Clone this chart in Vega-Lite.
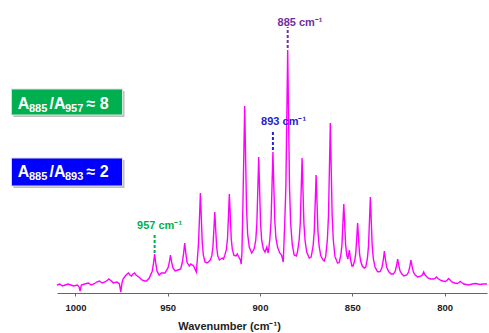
{
  "$schema": "https://vega.github.io/schema/vega-lite/v6.json",
  "width": 430,
  "height": 283,
  "autosize": "none",
  "padding": {"left": 57, "top": 10, "right": 2, "bottom": 40},
  "background": "white",
  "config": {"view": {"stroke": null}, "font": "Liberation Sans"},
  "datasets": {
    "spectrum": [
      {"wn":1010,"intensity":8},{"wn":1008.5,"intensity":9},{"wn":1007,"intensity":7},{"wn":1005.5,"intensity":8},{"wn":1004,"intensity":9},{"wn":1002.5,"intensity":8},{"wn":1001,"intensity":7},{"wn":999,"intensity":8},{"wn":998,"intensity":6},{"wn":997.5,"intensity":2},{"wn":996.8,"intensity":8},{"wn":995,"intensity":9},{"wn":993,"intensity":10},{"wn":991.5,"intensity":8},{"wn":990,"intensity":9},{"wn":988.5,"intensity":11},{"wn":987,"intensity":12},{"wn":985.5,"intensity":10},{"wn":984,"intensity":11},{"wn":982.5,"intensity":13},{"wn":982,"intensity":14},{"wn":980.5,"intensity":12},{"wn":979.5,"intensity":10},{"wn":977.5,"intensity":11},{"wn":976.2,"intensity":9},{"wn":975.4,"intensity":1},{"wn":974.8,"intensity":10},{"wn":974.2,"intensity":14},{"wn":973,"intensity":17},{"wn":972,"intensity":19},{"wn":971.3,"intensity":20},{"wn":970.5,"intensity":18},{"wn":969.6,"intensity":17},{"wn":968.8,"intensity":19},{"wn":968,"intensity":20},{"wn":967.2,"intensity":18},{"wn":966.4,"intensity":17},{"wn":965,"intensity":15},{"wn":964,"intensity":13},{"wn":962.5,"intensity":12},{"wn":961.5,"intensity":12},{"wn":960,"intensity":15},
      {"wn":958.4,"intensity":21.8},{"wn":957.7,"intensity":29.8},{"wn":957.1,"intensity":39},{"wn":956.5,"intensity":29.8},{"wn":955.8,"intensity":21.8},{"wn":954.6,"intensity":18},{"wn":953.5,"intensity":20},{"wn":951.5,"intensity":20},
      {"wn":949.8,"intensity":25.3},{"wn":949.1,"intensity":31.2},{"wn":948.5,"intensity":38},{"wn":947.9,"intensity":31.2},{"wn":947.2,"intensity":25.3},{"wn":946,"intensity":22},{"wn":944.5,"intensity":23},{"wn":943,"intensity":24},
      {"wn":942.1,"intensity":30.5},{"wn":941.4,"intensity":39.6},{"wn":940.8,"intensity":50},{"wn":940.2,"intensity":39.6},{"wn":939.5,"intensity":30.5},{"wn":938.3,"intensity":27},{"wn":937.5,"intensity":29},{"wn":936,"intensity":27},{"wn":934.5,"intensity":21},
      {"wn":933.9,"intensity":35},{"wn":933.3,"intensity":50.4},{"wn":932.8,"intensity":74.8},{"wn":932.3,"intensity":100},{"wn":931.8,"intensity":74.8},{"wn":931.3,"intensity":50.4},{"wn":930.7,"intensity":37.8},{"wn":929.8,"intensity":31},{"wn":928.7,"intensity":30},
      {"wn":927,"intensity":32.6},{"wn":926.1,"intensity":37.3},{"wn":925.5,"intensity":46.2},{"wn":925,"intensity":63.3},{"wn":924.5,"intensity":81},{"wn":924,"intensity":63.3},{"wn":923.5,"intensity":46.2},{"wn":922.9,"intensity":37.3},{"wn":922,"intensity":33},{"wn":920.5,"intensity":35},{"wn":919.8,"intensity":34},
      {"wn":919.1,"intensity":37.6},{"wn":918.2,"intensity":43.6},{"wn":917.6,"intensity":54.8},{"wn":917.1,"intensity":76.6},{"wn":916.6,"intensity":99},{"wn":916.1,"intensity":76.6},{"wn":915.6,"intensity":54.8},{"wn":915,"intensity":43.6},{"wn":914.1,"intensity":37.6},{"wn":913,"intensity":37},{"wn":912.3,"intensity":39},{"wn":911.5,"intensity":36},{"wn":910.6,"intensity":33},{"wn":910.2,"intensity":29},
      {"wn":909.8,"intensity":40},{"wn":909.3,"intensity":85},{"wn":908.8,"intensity":135},{"wn":908.3,"intensity":187},{"wn":907.8,"intensity":135},{"wn":907.3,"intensity":85},{"wn":906.7,"intensity":59},{"wn":905.8,"intensity":45.6},{"wn":904.5,"intensity":40},
      {"wn":903.2,"intensity":43.9},{"wn":902.3,"intensity":52.8},{"wn":901.7,"intensity":69.7},{"wn":901.2,"intensity":102.3},{"wn":900.7,"intensity":136},{"wn":900.2,"intensity":102.3},{"wn":899.7,"intensity":69.7},{"wn":899.1,"intensity":52.8},{"wn":898.2,"intensity":44},{"wn":897.3,"intensity":41},{"wn":896.3,"intensity":46},{"wn":895.6,"intensity":40},{"wn":895.2,"intensity":45},
      {"wn":894.6,"intensity":55.3},{"wn":894,"intensity":72.7},{"wn":893.5,"intensity":106.3},{"wn":893,"intensity":141},{"wn":892.5,"intensity":106.3},{"wn":892,"intensity":72.7},{"wn":891.4,"intensity":55.3},{"wn":890.5,"intensity":46},{"wn":889.3,"intensity":40},{"wn":888.3,"intensity":38},{"wn":887.4,"intensity":31},
      {"wn":886.6,"intensity":70},{"wn":886,"intensity":105},{"wn":885.5,"intensity":173},{"wn":885,"intensity":243},{"wn":884.5,"intensity":173},{"wn":884,"intensity":105},{"wn":883.4,"intensity":70},{"wn":882.5,"intensity":48},{"wn":881.5,"intensity":38},{"wn":880.3,"intensity":37},
      {"wn":879.7,"intensity":41},{"wn":878.8,"intensity":52.7},{"wn":878.2,"intensity":69.3},{"wn":877.7,"intensity":101.7},{"wn":877.2,"intensity":135},{"wn":876.7,"intensity":101.7},{"wn":876.2,"intensity":69.3},{"wn":875.6,"intensity":52.7},{"wn":874.7,"intensity":41},{"wn":873.3,"intensity":35},{"wn":872.3,"intensity":36},
      {"wn":871.2,"intensity":47.4},{"wn":870.6,"intensity":61.7},{"wn":870.1,"intensity":89.4},{"wn":869.6,"intensity":118},{"wn":869.1,"intensity":89.4},{"wn":868.6,"intensity":61.7},{"wn":868,"intensity":47.4},{"wn":867.1,"intensity":37.4},{"wn":865.8,"intensity":33},{"wn":865.2,"intensity":32},
      {"wn":864.4,"intensity":36.6},{"wn":863.5,"intensity":53.2},{"wn":862.9,"intensity":76.9},{"wn":862.4,"intensity":122.7},{"wn":861.9,"intensity":170},{"wn":861.4,"intensity":122.7},{"wn":860.9,"intensity":76.9},{"wn":860.3,"intensity":53.2},{"wn":859.4,"intensity":36.6},{"wn":858,"intensity":30},
      {"wn":857.1,"intensity":30.4},{"wn":856.2,"intensity":37.8},{"wn":855.6,"intensity":48.1},{"wn":855.1,"intensity":68.3},{"wn":854.6,"intensity":89},{"wn":854.1,"intensity":68.3},{"wn":853.6,"intensity":48.1},{"wn":853,"intensity":37.8},{"wn":852.4,"intensity":34},{"wn":851.6,"intensity":43},{"wn":850.9,"intensity":33},{"wn":850.2,"intensity":27},{"wn":849.6,"intensity":27},
      {"wn":848.7,"intensity":32.2},{"wn":848.1,"intensity":39.9},{"wn":847.6,"intensity":54.7},{"wn":847.1,"intensity":70},{"wn":846.6,"intensity":54.7},{"wn":846.1,"intensity":39.9},{"wn":845.5,"intensity":32.2},{"wn":844.6,"intensity":27},{"wn":843.5,"intensity":25},
      {"wn":842.7,"intensity":25.9},{"wn":841.8,"intensity":34.7},{"wn":841.2,"intensity":47.1},{"wn":840.7,"intensity":71.2},{"wn":840.2,"intensity":96},{"wn":839.7,"intensity":71.2},{"wn":839.2,"intensity":47.1},{"wn":838.6,"intensity":34.7},{"wn":837.7,"intensity":26},{"wn":836.5,"intensity":22},{"wn":835.8,"intensity":21},
      {"wn":834.9,"intensity":21.5},{"wn":833.9,"intensity":25.5},{"wn":833.2,"intensity":33.2},{"wn":832.6,"intensity":42},{"wn":832,"intensity":33.2},{"wn":831.3,"intensity":25.5},{"wn":830.3,"intensity":21.5},{"wn":829,"intensity":19},
      {"wn":827.7,"intensity":19},{"wn":826.7,"intensity":22},{"wn":826,"intensity":27.6},{"wn":825.4,"intensity":34},{"wn":824.8,"intensity":27.6},{"wn":824.1,"intensity":22},{"wn":823.1,"intensity":19},{"wn":822,"intensity":17},
      {"wn":820.5,"intensity":18},{"wn":819.5,"intensity":21},{"wn":818.8,"intensity":26.6},{"wn":818.2,"intensity":33},{"wn":817.6,"intensity":26.6},{"wn":816.9,"intensity":21},{"wn":815.9,"intensity":18},{"wn":814.5,"intensity":16},
      {"wn":812.6,"intensity":17},{"wn":811.9,"intensity":18.5},{"wn":811.3,"intensity":21},{"wn":810.7,"intensity":18.5},{"wn":810,"intensity":17},{"wn":809,"intensity":15},{"wn":807.5,"intensity":14},{"wn":806,"intensity":14},
      {"wn":805.2,"intensity":14.5},{"wn":804.4,"intensity":16},{"wn":803.6,"intensity":14.5},{"wn":802.5,"intensity":13},{"wn":801,"intensity":12},{"wn":799.5,"intensity":11.5},
      {"wn":798.5,"intensity":13},{"wn":797.8,"intensity":14.5},{"wn":797,"intensity":13},{"wn":796,"intensity":11},{"wn":794.5,"intensity":10},{"wn":793,"intensity":9.5},
      {"wn":792.2,"intensity":10.5},{"wn":791.5,"intensity":11.5},{"wn":790.8,"intensity":10.5},{"wn":789.5,"intensity":9},{"wn":787,"intensity":8},{"wn":785,"intensity":9},{"wn":783,"intensity":9.5},{"wn":781,"intensity":8.5},{"wn":779,"intensity":9},{"wn":777,"intensity":9}
    ],
    "markers": [
      {"peak":"885","wn":885,"intensity":245,"intensity2":266,"labelWn":890.5,"labelY":270.5,"label":"885 cm⁻¹"},
      {"peak":"893","wn":893,"intensity":143,"intensity2":161,"labelWn":899.4,"labelY":171,"label":"893 cm⁻¹"},
      {"peak":"957","wn":957.1,"intensity":40,"intensity2":60,"labelWn":966.6,"labelY":67,"label":"957 cm⁻¹"}
    ],
    "boxes": [
      {"peak":"ratio957","wn":1034.7,"wn2":974.5,"intensity":178,"intensity2":204},
      {"peak":"ratio893","wn":1034.7,"wn2":974.5,"intensity":107,"intensity2":135}
    ],
    "boxText": [
      {"box":"ratio957","role":"big","text":"A","wn":1031.3,"intensity":183.7},
      {"box":"ratio957","role":"sub","text":"885","wn":1025.2,"intensity":183.7},
      {"box":"ratio957","role":"big","text":"/A","wn":1014.1,"intensity":183.7},
      {"box":"ratio957","role":"sub","text":"957","wn":1005.7,"intensity":183.7},
      {"box":"ratio957","role":"big","text":"≈ 8","wn":994.0,"intensity":183.7},
      {"box":"ratio893","role":"big","text":"A","wn":1031.3,"intensity":116.3},
      {"box":"ratio893","role":"sub","text":"885","wn":1025.2,"intensity":116.3},
      {"box":"ratio893","role":"big","text":"/A","wn":1014.1,"intensity":116.3},
      {"box":"ratio893","role":"sub","text":"893","wn":1005.7,"intensity":116.3},
      {"box":"ratio893","role":"big","text":"≈ 2","wn":994.0,"intensity":116.3}
    ]
  },
  "encoding": {
    "x": {
      "field": "wn", "type": "quantitative",
      "scale": {"domain": [777, 1010], "reverse": true, "nice": false, "zero": false},
      "axis": {
        "values": [1000, 950, 900, 850, 800], "format": "d",
        "grid": false, "domainColor": "#666666", "domainWidth": 1,
        "tickColor": "#666666", "tickSize": 3,
        "labelFont": "Liberation Sans", "labelFontSize": 9.5, "labelFontWeight": "bold", "labelColor": "#222222", "labelPadding": 6,
        "title": "Wavenumber (cm⁻¹)", "titleFont": "Liberation Sans", "titleFontSize": 11, "titleFontWeight": "bold", "titleColor": "#222222",
        "titleX": 172, "titleY": 36.5, "titleAlign": "center", "titleBaseline": "alphabetic", "titleAnchor": null
      }
    },
    "y": {"field": "intensity", "type": "quantitative", "scale": {"domain": [0, 283], "nice": false, "zero": true}, "axis": null}
  },
  "layer": [
    {
      "data": {"name": "spectrum"},
      "mark": {"type": "line", "color": "#FF00FF", "strokeWidth": 1.4, "clip": false},
      "encoding": {}
    },
    {
      "data": {"name": "markers"},
      "mark": {"type": "rule", "strokeDash": [3, 2], "strokeWidth": 2},
      "encoding": {
        "y2": {"field": "intensity2"},
        "color": {"field": "peak", "type": "nominal", "scale": {"domain": ["885", "893", "957", "ratio957", "ratio893"], "range": ["#7030A0", "#2424CC", "#00B050", "#00B050", "#0000FF"]}, "legend": null}
      }
    },
    {
      "data": {"name": "markers"},
      "mark": {"type": "text", "align": "left", "baseline": "middle", "font": "Liberation Sans", "fontSize": 11, "fontWeight": "bold"},
      "encoding": {
        "x": {"field": "labelWn", "type": "quantitative"},
        "y": {"field": "labelY", "type": "quantitative"},
        "text": {"field": "label"},
        "color": {"field": "peak", "type": "nominal", "legend": null}
      }
    },
    {
      "data": {"name": "boxes"},
      "mark": {"type": "rect", "color": "#BFBFBF", "xOffset": 2, "x2Offset": 2, "yOffset": 2, "y2Offset": 2},
      "encoding": {"x2": {"field": "wn2"}, "y2": {"field": "intensity2"}}
    },
    {
      "data": {"name": "boxes"},
      "mark": {"type": "rect", "stroke": "#E0E0E0", "strokeWidth": 1},
      "encoding": {
        "x2": {"field": "wn2"}, "y2": {"field": "intensity2"},
        "fill": {"field": "peak", "type": "nominal", "scale": {"domain": ["885", "893", "957", "ratio957", "ratio893"], "range": ["#7030A0", "#2424CC", "#00B050", "#00B050", "#0000FF"]}, "legend": null}
      }
    },
    {
      "data": {"name": "boxText"},
      "transform": [{"filter": "datum.role === 'big'"}],
      "mark": {"type": "text", "align": "left", "baseline": "alphabetic", "font": "Liberation Sans", "fontSize": 16, "fontWeight": "bold", "color": "white"},
      "encoding": {"text": {"field": "text"}}
    },
    {
      "data": {"name": "boxText"},
      "transform": [{"filter": "datum.role === 'sub'"}],
      "mark": {"type": "text", "align": "left", "baseline": "alphabetic", "dy": 3, "font": "Liberation Sans", "fontSize": 11, "fontWeight": "bold", "color": "white"},
      "encoding": {"text": {"field": "text"}}
    }
  ]
}
